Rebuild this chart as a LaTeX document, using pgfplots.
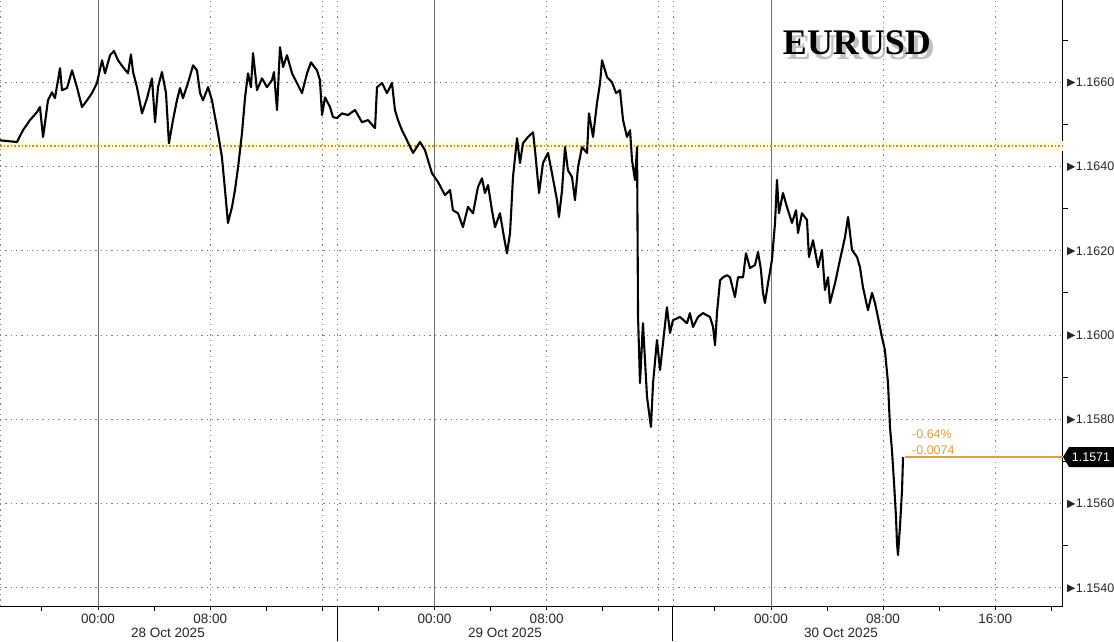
\documentclass[border=0pt]{standalone}
\usepackage{fontspec}
\setmainfont{Liberation Sans}
\newfontfamily\titlefont{Liberation Serif}
\usepackage{pgfplots}
\pgfplotsset{compat=1.18}
\definecolor{gold}{HTML}{DDA040}
\definecolor{golddot}{HTML}{D09020}
\definecolor{gridgray}{HTML}{808080}
\definecolor{daygray}{HTML}{6E6E6E}

\pgfplotstableread{
h p
-6.99 1.16462
-5.78 1.16458
-5.35 1.16486
-4.85 1.16510
-4.35 1.16529
-4.14 1.16541
-3.92 1.16470
-3.78 1.16503
-3.57 1.16557
-3.28 1.16576
-3.07 1.16562
-2.71 1.16633
-2.57 1.16581
-2.21 1.16586
-1.85 1.16628
-1.50 1.16588
-1.14 1.16541
-0.78 1.16557
-0.43 1.16574
-0.07 1.16598
0.00 1.16609
0.29 1.16652
0.50 1.16621
0.86 1.16664
1.14 1.16674
1.43 1.16652
1.78 1.16636
2.14 1.16621
2.35 1.16666
2.50 1.16624
2.78 1.16588
3.14 1.16526
3.50 1.16562
3.85 1.16609
4.07 1.16505
4.28 1.16588
4.56 1.16624
4.85 1.16574
5.06 1.16455
5.35 1.16510
5.63 1.16557
5.85 1.16586
6.06 1.16562
6.42 1.16598
6.78 1.16640
7.06 1.16628
7.28 1.16574
7.49 1.16557
7.85 1.16588
8.13 1.16557
8.35 1.16517
8.56 1.16479
8.84 1.16422
9.06 1.16344
9.27 1.16266
9.56 1.16304
9.77 1.16344
9.99 1.16398
10.27 1.16479
10.49 1.16564
10.70 1.16621
10.91 1.16588
11.06 1.16669
11.34 1.16581
11.70 1.16609
12.05 1.16588
12.41 1.16605
12.55 1.16624
12.77 1.16534
12.98 1.16683
13.20 1.16636
13.48 1.16664
13.84 1.16621
14.19 1.16598
14.55 1.16574
14.91 1.16621
15.19 1.16647
15.62 1.16628
15.83 1.16605
15.98 1.16522
16.19 1.16564
16.55 1.16541
16.76 1.16517
17.05 1.16515
17.40 1.16526
17.83 1.16522
18.33 1.16534
18.83 1.16505
19.26 1.16510
19.76 1.16491
19.90 1.16588
20.26 1.16598
20.61 1.16574
20.97 1.16598
21.18 1.16534
21.40 1.16510
21.68 1.16486
22.04 1.16462
22.47 1.16432
22.97 1.16458
23.32 1.16439
23.82 1.16384
24.25 1.16363
24.75 1.16332
25.11 1.16344
25.32 1.16296
25.68 1.16289
26.03 1.16256
26.39 1.16304
26.75 1.16289
27.10 1.16351
27.39 1.16372
27.60 1.16337
27.82 1.16356
28.10 1.16296
28.32 1.16256
28.67 1.16289
28.96 1.16232
29.17 1.16194
29.39 1.16242
29.60 1.16375
29.89 1.16467
30.10 1.16408
30.31 1.16455
30.67 1.16470
31.03 1.16481
31.17 1.16439
31.46 1.16337
31.74 1.16408
32.10 1.16432
32.38 1.16384
32.74 1.16320
32.88 1.16280
33.10 1.16344
33.31 1.16446
33.52 1.16391
33.81 1.16375
34.02 1.16320
34.24 1.16398
34.52 1.16446
34.88 1.16432
35.02 1.16526
35.31 1.16470
35.59 1.16550
35.81 1.16598
35.95 1.16652
36.31 1.16612
36.66 1.16600
36.95 1.16574
37.23 1.16581
37.45 1.16510
37.73 1.16470
37.95 1.16486
38.09 1.16415
38.30 1.16368
38.45 1.16446
38.52 1.16043
38.66 1.15886
38.87 1.16028
39.16 1.15853
39.44 1.15782
39.59 1.15886
39.87 1.15988
40.09 1.15917
40.30 1.15981
40.58 1.16066
40.80 1.16005
41.01 1.16035
41.51 1.16043
42.01 1.16028
42.22 1.16052
42.44 1.16019
42.80 1.16043
43.15 1.16052
43.65 1.16043
43.87 1.16019
44.01 1.15976
44.15 1.16052
44.37 1.16130
44.58 1.16137
44.86 1.16142
45.08 1.16137
45.43 1.16090
45.65 1.16137
46.01 1.16137
46.22 1.16194
46.50 1.16159
46.86 1.16166
47.08 1.16197
47.29 1.16154
47.43 1.16100
47.57 1.16076
47.79 1.16123
48.07 1.16178
48.29 1.16266
48.43 1.16368
48.57 1.16289
48.86 1.16337
49.14 1.16304
49.50 1.16266
49.79 1.16296
49.93 1.16242
50.21 1.16289
50.57 1.16273
50.71 1.16185
51.00 1.16225
51.36 1.16161
51.64 1.16202
51.85 1.16107
52.07 1.16137
52.21 1.16076
52.57 1.16123
52.92 1.16178
53.28 1.16232
53.50 1.16280
53.78 1.16202
54.14 1.16185
54.35 1.16161
54.56 1.16114
54.92 1.16059
55.21 1.16100
55.42 1.16076
55.63 1.16043
55.92 1.15995
56.13 1.15964
56.35 1.15886
56.49 1.15782
56.63 1.15727
56.78 1.15649
56.92 1.15568
56.99 1.15507
57.06 1.15478
57.20 1.15544
57.35 1.15632
57.42 1.15710
}\eurusd

\begin{document}
\begin{tikzpicture}
\path[use as bounding box] (0pt,-35pt) rectangle (1114pt,606pt);
\begin{axis}[
  at={(0pt,0pt)}, anchor=south west,
  width=1063pt, height=606pt, scale only axis,
  xmin=-6.99, xmax=68.83, ymin=1.15357, ymax=1.16795,
  axis x line*=bottom, axis y line*=right,
  axis line style={-, black, line width=1pt},
  clip=false,
  /pgf/number format/assume math mode=true,
  tick label style={font=\fontsize{13.5pt}{15pt}\selectfont, text=black!85},
  xtick={0,8,24,32,48,56,64},
  xticklabels={00:00,08:00,00:00,08:00,00:00,08:00,16:00},
  minor xtick={-4,4,12,16,20,28,36,40,44,52,60,68},
  ytick={1.154,1.156,1.158,1.160,1.162,1.164,1.166},
  minor ytick={1.155,1.157,1.159,1.161,1.163,1.165,1.167},
  tick align=outside,
  major tick length=4pt, minor tick length=5pt,
  tick style={black, line width=0.9pt},
  major y tick style={draw=none},
  yticklabel={\tikz[baseline=-0.6ex]\fill (0pt,-4pt)--(8pt,0pt)--(0pt,4pt)--cycle;\hspace{0.8pt}\pgfmathprintnumber[fixed,fixed zerofill,precision=4]{\tick}},
  yticklabel style={anchor=west, inner sep=0pt, xshift=0pt, font=\fontsize{12.5pt}{14pt}\selectfont},
  xticklabel style={yshift=-1pt},
  ymajorgrids,
  major grid style={gridgray, dash pattern=on 1.3pt off 4pt, line width=0.8pt},
]
% previous close highlight band
\fill[yellow!12] (axis cs:-6.99,1.16436) rectangle (axis cs:68.83,1.16460);
% vertical grid
\foreach \d in {-6.93,8,16,17.05,32,40,41.01,56,64}{
  \edef\tmp{\noexpand\draw[gridgray, dash pattern=on 1.3pt off 4pt, line width=0.8pt] (axis cs:\d,1.15357) -- (axis cs:\d,1.16795);}\tmp
}
\foreach \d in {0,24,48}{
  \edef\tmp{\noexpand\draw[daygray, line width=0.9pt] (axis cs:\d,1.15357) -- (axis cs:\d,1.16795);}\tmp
}
% day separators below axis
\draw[black, line width=1pt] (axis cs:17.05,1.15357) -- ++(0pt,-35pt);
\draw[black, line width=1pt] (axis cs:41.01,1.15357) -- ++(0pt,-35pt);
% previous close
\addplot[golddot, line width=1.6pt, dash pattern=on 1.6pt off 2pt] coordinates {(-6.99,1.16448) (68.83,1.16448)};
% last price line
\addplot[gold, line width=1.5pt] coordinates {(57.56,1.1571) (68.83,1.1571)};
% price
\addplot[black, line width=2.1pt, line join=round] table[x=h,y=p] {\eurusd};
\end{axis}
% date labels
\node[font=\fontsize{13.5pt}{15pt}\selectfont, text=black!85] at (168pt,-27pt) {28 Oct 2025};
\node[font=\fontsize{13.5pt}{15pt}\selectfont, text=black!85] at (505pt,-27pt) {29 Oct 2025};
\node[font=\fontsize{13.5pt}{15pt}\selectfont, text=black!85] at (841pt,-27pt) {30 Oct 2025};
% change labels
\node[anchor=west, inner sep=0pt, text=gold, font=\fontsize{12.5pt}{14pt}\selectfont] at (912pt,172pt) {-0.64\%};
\node[anchor=west, inner sep=0pt, text=gold, font=\fontsize{12.5pt}{14pt}\selectfont] at (912pt,156pt) {-0.0074};
% last price box
\fill[black] (1063pt,149pt) -- (1069pt,159pt) -- (1114pt,159pt) -- (1114pt,139pt) -- (1069pt,139pt) -- cycle;
\node[text=white, font=\fontsize{12.5pt}{14pt}\selectfont, inner sep=0pt] at (1091pt,149pt) {1.1571};
% title with soft shadow
\node[text=black!45, opacity=0.55, font=\titlefont\bfseries\fontsize{36pt}{40pt}\selectfont] at (861pt,558pt) {EURUSD};
\node[text=black, font=\titlefont\bfseries\fontsize{36pt}{40pt}\selectfont] at (857pt,563pt) {EURUSD};
\end{tikzpicture}
\end{document}
